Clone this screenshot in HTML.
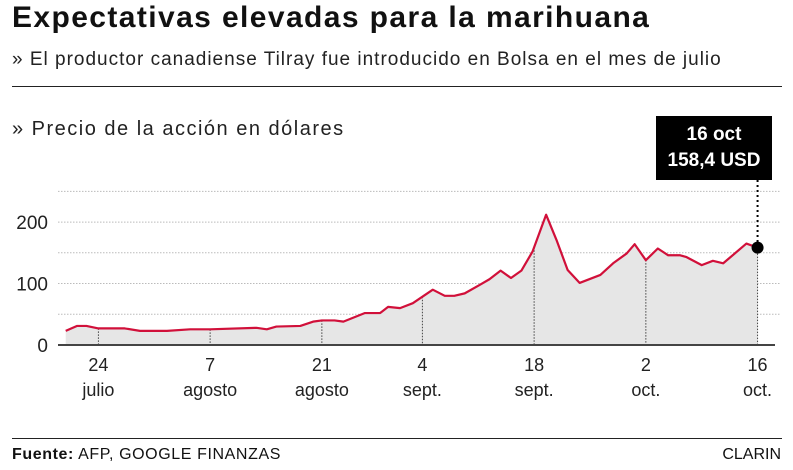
<!DOCTYPE html>
<html><head><meta charset="utf-8"><style>
body{margin:0;width:793px;height:470px;background:#fff;font-family:"Liberation Sans",sans-serif;overflow:hidden;position:relative}
.t{position:absolute;white-space:nowrap}
</style></head><body>
<div class="t" style="left:12px;top:1px;font-size:30px;font-weight:bold;color:#111;letter-spacing:1.4px">Expectativas elevadas para la marihuana</div>
<div class="t" style="left:12px;top:49px;font-size:19px;color:#222;letter-spacing:1px">» El productor canadiense Tilray fue introducido en Bolsa en el mes de julio</div>
<div style="position:absolute;left:12px;top:86px;width:770px;height:1px;background:#222"></div>
<div class="t" style="left:12px;top:118px;font-size:20px;color:#222;letter-spacing:1.5px">» Precio de la acción en dólares</div>
<svg id="c" width="793" height="470" style="position:absolute;left:0;top:0"></svg>
<div style="position:absolute;left:656px;top:116px;width:116px;height:64px;background:#000;color:#fff;font-weight:bold;font-size:19px;text-align:center;line-height:26px;padding-top:6px;box-sizing:border-box">16 oct<br>158,4 USD</div>
<div style="position:absolute;left:12px;top:438px;width:770px;height:1px;background:#222"></div>
<div class="t" style="left:12px;top:446px;font-size:16px;color:#111;letter-spacing:0.6px"><b>Fuente:</b> AFP, GOOGLE FINANZAS</div>
<div class="t" style="right:12px;top:446px;font-size:16px;color:#111">CLARIN</div>
<script>
const days=[0,1.4,2.6,4.1,7.4,9.3,12.7,15.6,18.1,23.9,25.2,26.4,29.4,31,32.1,33.7,34.8,37.5,39.4,40.4,41.9,43.5,46,47.5,48.7,50,51.9,53.1,54.5,55.8,57.1,58.5,60.2,61.5,62.9,64.4,67,68.6,70.3,71.3,72.7,74.2,75.5,77,77.8,79.7,81.1,82.4,85.3,86.7];
const prices=[23,31,31,27,27,23,23,25.5,25.5,28,25.5,30,31,38,40,40,38,52,52,62,60,68,90,80,80,84,98,107,121,109,121,152,212,171,122,101,114,133,149,164,138,157,146,146,143,130,137,133,165,158.4];
const yTicks=[0,100,200];
const gridVals=[50,100,150,200,250];
const tickDays=[4.1,18.1,32.1,44.7,58.7,72.7,86.7];
const tickNums=["24","7","21","4","18","2","16"];
const tickMonths=["julio","agosto","agosto","sept.","sept.","oct.","oct."];
const ns="http://www.w3.org/2000/svg",svg=document.getElementById('c');
const X=d=>65.7+d*7.98, Y=v=>345-v*0.6146;
function mk(t,a){const e=document.createElementNS(ns,t);for(const k in a)e.setAttribute(k,a[k]);svg.appendChild(e);return e;}
gridVals.forEach(v=>{const e=mk('line',{x1:58,x2:780,y1:Y(v),y2:Y(v),stroke:'#bbb','stroke-dasharray':'1.5,1.5'});

});
yTicks.forEach(v=>{const e=mk('text',{x:48,y:Y(v)+7,'text-anchor':'end','font-size':19,fill:'#222','font-family':'Liberation Sans'});e.textContent=v;

});
let d='M'+X(days[0])+','+Y(0);days.forEach((t,i)=>d+='L'+X(t)+','+Y(prices[i]));d+='L'+X(days[days.length-1])+','+Y(0)+'Z';
const area=mk('path',{d:d,fill:'#e6e6e6'});


tickDays.forEach((t,i)=>{const x=X(t);const iv=prices.length-1;
let v=0;for(let j=0;j<days.length-1;j++){if(t>=days[j]&&t<=days[j+1]){v=prices[j]+(prices[j+1]-prices[j])*(t-days[j])/(days[j+1]-days[j]);}}
if(i===tickDays.length-1)v=prices[iv];
const l=mk('line',{x1:x,x2:x,y1:Y(v),y2:Y(0),stroke:'#444','stroke-dasharray':'1.5,1.5'});


const a=mk('text',{x:x,y:371,'text-anchor':'middle','font-size':18,fill:'#222','font-family':'Liberation Sans'});a.textContent=tickNums[i];


const b=mk('text',{x:x,y:396,'text-anchor':'middle','font-size':18,fill:'#222','font-family':'Liberation Sans'});b.textContent=tickMonths[i];

});
const base=mk('line',{x1:58,x2:775,y1:Y(0),y2:Y(0),stroke:'#444','stroke-width':2});


const line=mk('polyline',{points:days.map((t,i)=>X(t)+','+Y(prices[i])).join(' '),fill:'none',stroke:'#d1103a','stroke-width':2.2,'stroke-linejoin':'round'});


const lx=X(days[days.length-1]),ly=Y(prices[prices.length-1]);
const cl=mk('line',{x1:lx,x2:lx,y1:180,y2:ly,stroke:'#000','stroke-width':2,'stroke-dasharray':'2,3'});


const dot=mk('circle',{cx:lx,cy:ly,r:6,fill:'#000'});


</script>
</body></html>
